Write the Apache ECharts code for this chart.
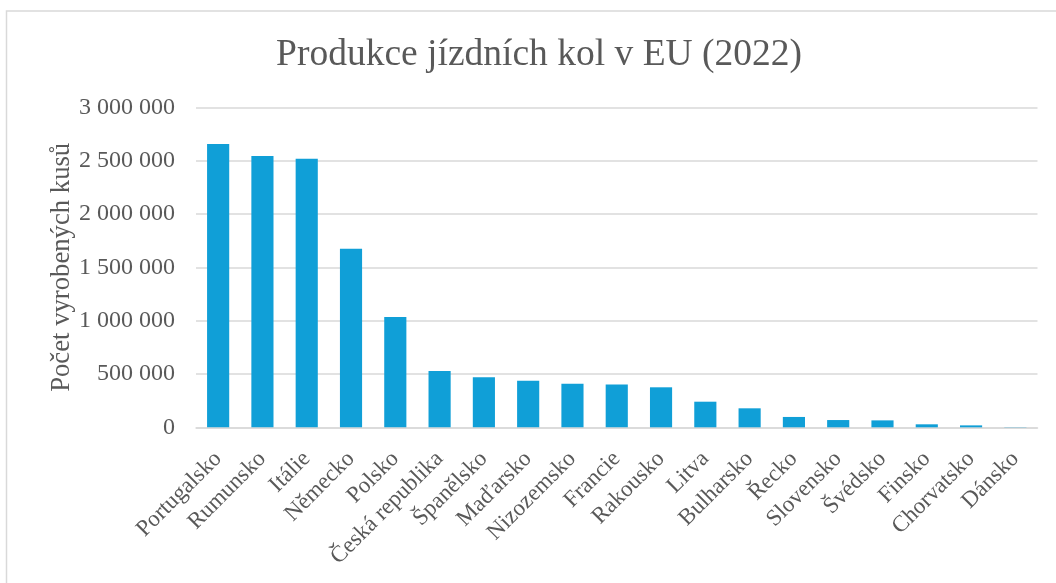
<!DOCTYPE html>
<html>
<head>
<meta charset="utf-8">
<script src="https://cdn.jsdelivr.net/npm/echarts@6/dist/echarts.min.js"></script>
<style>
html,body{margin:0;padding:0;background:#fff;}
#chart{width:1056px;height:583px;}
</style>
</head>
<body>
<div id="chart"></div>
<script>
const titleText = 'Produkce jízdních kol v EU (2022)';
const yAxisName = 'Počet vyrobených kusů';
const categories = ['Portugalsko','Rumunsko','Itálie','Německo','Polsko','Česká republika','Španělsko','Maďarsko','Nizozemsko','Francie','Rakousko','Litva','Bulharsko','Řecko','Slovensko','Švédsko','Finsko','Chorvatsko','Dánsko'];
const values = [2656000,2544000,2518000,1674000,1034000,528000,469000,437000,409000,402000,375000,240000,178000,97000,68000,65000,28000,18000,2000];

const font = '"Liberation Serif", "Times New Roman", serif';
const txt = '#595959';
const chart = echarts.init(document.getElementById('chart'));
chart.setOption({
  animation: false,
  backgroundColor: '#fff',
  graphic: [{
    type: 'rect',
    shape: {x: 6.5, y: 11, width: 1100, height: 700},
    style: {fill: 'none', stroke: '#d9d9d9', lineWidth: 1.5},
    silent: true
  }],
  title: {
    text: titleText,
    left: 534, top: 31, textAlign: 'center',
    textStyle: {fontFamily: font, fontSize: 37.5, fontWeight: 'normal', color: txt}
  },
  grid: {left: 196, right: 18.5, top: 107.3, bottom: 155.7, containLabel: false},
  xAxis: {
    type: 'category',
    data: categories,
    axisLine: {lineStyle: {color: '#d9d9d9', width: 1.5}},
    axisTick: {show: false},
    axisLabel: {interval: 0, rotate: 45, margin: 28, fontFamily: font, fontSize: 23, color: txt}
  },
  yAxis: {
    type: 'value',
    min: 0, max: 3000000, interval: 500000,
    name: yAxisName,
    nameLocation: 'middle',
    nameGap: 121,
    nameMoveOverlap: false,
    nameTextStyle: {fontFamily: font, fontSize: 26.7, color: txt},
    axisLine: {show: false},
    axisTick: {show: false},
    splitLine: {lineStyle: {color: '#d9d9d9', width: 1.5}},
    axisLabel: {
      margin: 21, fontFamily: font, fontSize: 24, color: txt,
      formatter: v => String(v).replace(/\B(?=(\d{3})+(?!\d))/g, ' ')
    }
  },
  series: [{
    type: 'bar',
    data: values,
    barCategoryGap: '50%',
    itemStyle: {color: '#109fd7'}
  }]
});
</script>
</body>
</html>
